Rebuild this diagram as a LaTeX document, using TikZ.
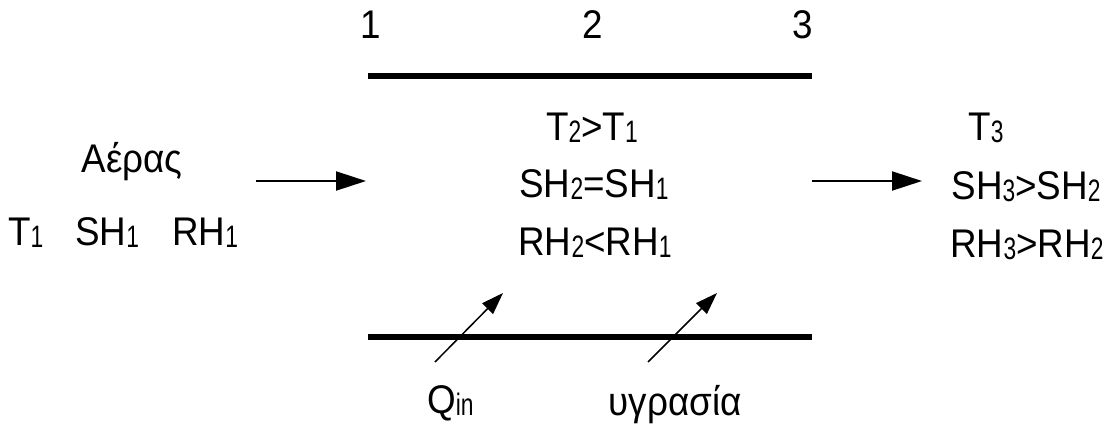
\documentclass[tikz,border=0pt]{standalone}
\usepackage{fontspec}
\setmainfont{Liberation Sans}[FakeStretch=0.92]
\usetikzlibrary{arrows.meta}
\newcommand\sbs[1]{\raisebox{-2pt}{\scalebox{0.8}[1]{\fontsize{31}{31}\selectfont #1}}}
\begin{document}
\begin{tikzpicture}[x=1pt,y=-1pt,
  txt/.style={inner sep=0pt,anchor=base,font=\fontsize{40}{46}\selectfont},
  wall/.style={line width=6.5pt},
  flow/.style={line width=2pt,-{Triangle[length=30pt,width=19pt]}},
  inflow/.style={line width=1.5pt,-{Triangle[length=22pt,width=15pt]}}]
\useasboundingbox (0,0) rectangle (1110,429);
% station numbers
\node[txt] (n1) at (371,38) {1};
\node[txt] (n2) at (593,38) {2};
\node[txt] (n3) at (803,38) {3};
% walls
\coordinate (tl) at (368,76);
\coordinate (tr) at (812,76);
\coordinate (bl) at (368,337);
\coordinate (br) at (812,337);
\draw[wall] (tl) -- (tr);
\draw[wall] (bl) -- (br);
% inlet
\node[txt] (air) at (132,172) {Αέρας};
\node[txt,anchor=base west] (t1) at (8,245) {T\sbs{1}};
\node[txt,anchor=base west] (sh1) at (75,245) {SH\sbs{1}};
\node[txt,anchor=base west] (rh1) at (172,245) {RH\sbs{1}};
% middle
\node[txt] (m1) at (592,140) {T\sbs{2}>T\sbs{1}};
\node[txt] (m2) at (594,197) {SH\sbs{2}=SH\sbs{1}};
\node[txt] (m3) at (595,255) {RH\sbs{2}<RH\sbs{1}};
% outlet
\node[txt] (o1) at (986,140) {T\sbs{3}};
\node[txt] (o2) at (1026,199) {SH\sbs{3}>SH\sbs{2}};
\node[txt] (o3) at (1027,257) {RH\sbs{3}>RH\sbs{2}};
% flow arrows
\coordinate (a1s) at (256,181);
\coordinate (a1e) at (366,181);
\coordinate (a2s) at (812,181);
\coordinate (a2e) at (922,181);
\draw[flow] (a1s) -- (a1e);
\draw[flow] (a2s) -- (a2e);
% inputs
\node[txt,anchor=base west] (q) at (427,413) {Q\sbs{in}};
\node[txt] (hum) at (675,415) {υγρασία};
\coordinate (q1s) at (435,362);
\coordinate (q1e) at (503,293);
\coordinate (q2s) at (648,362);
\coordinate (q2e) at (717,293);
\draw[inflow] (q1s) -- (q1e);
\draw[inflow] (q2s) -- (q2e);
\end{tikzpicture}
\end{document}
